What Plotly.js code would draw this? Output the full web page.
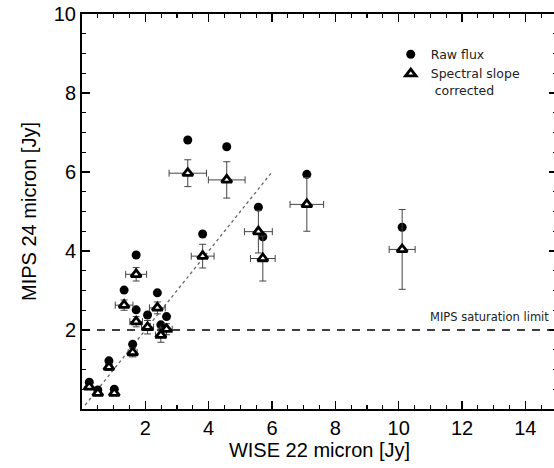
<!DOCTYPE html>
<html>
<head>
<meta charset="utf-8">
<script src="https://cdn.plot.ly/plotly-3.0.1.min.js"></script>
<style>
html, body { margin: 0; padding: 0; overflow: hidden; background: #fff; }
#chart { width: 560px; height: 468px; }
</style>
</head>
<body>
<div id="chart"></div>
<script>
// WISE 22 micron flux [Jy]
var wise22 = [0.23, 0.50, 0.85, 1.02, 1.33, 1.60, 1.71, 1.71, 2.07, 2.38, 2.49, 2.67, 3.34, 3.81, 4.57, 5.57, 5.71, 7.10, 10.11];
// MIPS 24 micron raw flux [Jy]
var mipsRaw = [0.68, 0.48, 1.22, 0.50, 3.01, 1.64, 3.90, 2.51, 2.38, 2.94, 2.13, 2.34, 6.81, 4.43, 6.64, 5.11, 4.36, 5.94, 4.60];
// MIPS 24 micron spectral-slope corrected flux [Jy]
var mipsCorr = [0.56, 0.40, 1.06, 0.40, 2.63, 1.43, 3.41, 2.21, 2.07, 2.56, 1.87, 2.02, 5.97, 3.87, 5.80, 4.49, 3.81, 5.18, 4.04];
// uncertainties
var wiseErr = [0.05, 0.07, 0.10, 0.07, 0.28, 0.14, 0.33, 0.20, 0.19, 0.25, 0.17, 0.18, 0.59, 0.36, 0.58, 0.44, 0.39, 0.53, 0.41];
var corrErr = [0.04, 0.03, 0.08, 0.03, 0.13, 0.11, 0.17, 0.13, 0.17, 0.15, 0.18, 0.14, 0.34, 0.30, 0.46, 0.54, 0.57, 0.68, 1.01];
// one-to-one reference line
var oneToOneX = [0.1, 6.0];
var oneToOneY = [0.1, 6.0];
// MIPS saturation limit
var satLimit = 2;
var satX = [0, 15];
var xTicks = [2, 4, 6, 8, 10, 12, 14];
var yTicks = [2, 4, 6, 8, 10];

var traces = [
  {
    x: oneToOneX, y: oneToOneY, mode: 'lines', showlegend: false, hoverinfo: 'skip',
    line: {color: '#666', width: 1.3, dash: 'dot'}
  },
  {
    x: satX, y: [satLimit, satLimit], mode: 'lines', showlegend: false, hoverinfo: 'skip',
    line: {color: '#000', width: 1.3, dash: '8px,7px'}
  },
  {
    x: wise22, y: mipsRaw, mode: 'markers', name: 'Raw flux',
    marker: {symbol: 'circle', size: 9, color: '#000'}
  },
  {
    x: wise22, y: mipsCorr, mode: 'markers', name: 'Spectral slope<br>&nbsp;corrected',
    marker: {symbol: 'triangle-up', size: 9, color: '#fff', line: {color: '#000', width: 2.8}},
    error_x: {type: 'data', array: wiseErr, color: '#444', thickness: 1, width: 3.5},
    error_y: {type: 'data', array: corrErr, color: '#444', thickness: 1, width: 3.5}
  }
];

var axisCommon = {
  showgrid: false, zeroline: false, showline: true, linecolor: '#000', linewidth: 2,
  mirror: 'allticks', ticks: 'inside', ticklen: 8, tickwidth: 1.5, tickcolor: '#000',
  tickfont: {family: 'Liberation Sans, Arial, sans-serif', size: 20, color: '#000'},
  minor: {tick0: 0, dtick: 0.5, ticks: 'inside', ticklen: 4, tickwidth: 1.2, tickcolor: '#000'}
};

var layout = {
  width: 560, height: 468,
  margin: {l: 82, r: 3, t: 14, b: 59},
  paper_bgcolor: '#fff', plot_bgcolor: '#fff',
  xaxis: Object.assign({}, axisCommon, {
    range: [0, 15], tickmode: 'array', tickvals: xTicks, ticktext: xTicks.map(String),
    title: {text: 'WISE 22 micron [Jy]', standoff: 4, font: {family: 'Liberation Sans, Arial, sans-serif', size: 20, color: '#000'}}
  }),
  yaxis: Object.assign({}, axisCommon, {
    range: [0, 10], tickmode: 'array', tickvals: yTicks, ticktext: yTicks.map(String),
    title: {text: 'MIPS 24 micron [Jy]', standoff: 12, font: {family: 'Liberation Sans, Arial, sans-serif', size: 20, color: '#000'}}
  }),
  showlegend: true,
  legend: {
    x: 0.650, y: 0.935, xanchor: 'left', yanchor: 'top', valign: 'top',
    bgcolor: 'rgba(0,0,0,0)', tracegroupgap: 4,
    font: {family: 'DejaVu Sans, sans-serif', size: 12.5, color: '#222'}
  },
  annotations: [{
    x: 14.8, y: satLimit, xref: 'x', yref: 'y', xanchor: 'right', yanchor: 'bottom', yshift: 4,
    text: 'MIPS saturation limit', showarrow: false,
    font: {family: 'DejaVu Sans, sans-serif', size: 11.5, color: '#222'}
  }]
};

Plotly.newPlot('chart', traces, layout, {displayModeBar: false, staticPlot: true});
</script>
</body>
</html>
